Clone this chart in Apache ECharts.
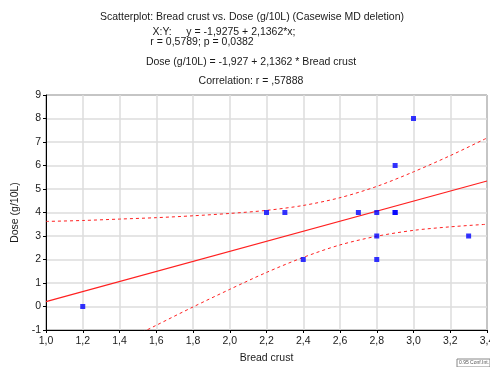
<!DOCTYPE html>
<html>
<head>
<meta charset="utf-8">
<script src="https://cdn.jsdelivr.net/npm/echarts@6/dist/echarts.min.js"></script>
<style>html,body{margin:0;padding:0;background:#fff}#c{width:490px;height:367px}</style>
</head>
<body>
<div id="c"></div>
<script>
// Scatter data (Bread crust, Dose) – (2.9, 4) occurs twice
const breadCrust = [1.2, 2.2, 2.3, 2.4, 2.7, 2.8, 2.8, 2.8, 2.9, 2.9, 2.9, 3.0, 3.3];
const dose       = [0.0, 4.0, 4.0, 2.0, 4.0, 4.0, 3.0, 2.0, 6.0, 4.0, 4.0, 8.0, 3.0];

// Regression line endpoints
const fitX = [1.0, 3.4];
const fitY = [0.21, 5.34];

// 0.95 confidence band
const bandX     = [1.0, 1.2, 1.4, 1.6, 1.8, 2.0, 2.2, 2.4, 2.6, 2.8, 3.0, 3.2, 3.4];
const bandUpper = [3.62, 3.66, 3.72, 3.78, 3.86, 3.96, 4.09, 4.30, 4.63, 5.11, 5.73, 6.42, 7.17];
const bandLower = [-3.20, -2.39, -1.59, -0.80, -0.02, 0.73, 1.45, 2.09, 2.62, 2.99, 3.24, 3.39, 3.50];

// Tick labels
const xTickLabels = ['1,0','1,2','1,4','1,6','1,8','2,0','2,2','2,4','2,6','2,8','3,0','3,2','3,4'];
const yTickLabels = ['-1','0','1','2','3','4','5','6','7','8','9'];

const titleLines = [
  'Scatterplot: Bread crust vs. Dose (g/10L) (Casewise MD deletion)',
  'X:Y:     y = -1,9275 + 2,1362*x;',
  'r = 0,5789; p = 0,0382',
  'Dose (g/10L) = -1,927 + 2,1362 * Bread crust',
  'Correlation: r = ,57888'
];

const FONT = '"Liberation Sans", Arial, sans-serif';
const chart = echarts.init(document.getElementById('c'), null, {renderer: 'canvas'});

const zip = (a, b) => a.map((v, i) => [v, b[i]]);
const txt = (s, x, y) => ({
  type: 'text', x: x, y: y,
  style: {text: s, fontFamily: FONT, fontSize: 10.5, fill: '#1a1a1a', align: 'center', verticalAlign: 'middle'}
});

chart.setOption({
  animation: false,
  backgroundColor: '#fff',
  grid: {left: 46, top: 95, width: 441, height: 235, show: true, borderColor: '#000', borderWidth: 1,
         containLabel: false, outerBoundsMode: 'none'},
  xAxis: {
    type: 'value', min: 1.0, max: 3.4, interval: 0.2,
    name: 'Bread crust', nameLocation: 'middle', nameGap: 23,
    nameTextStyle: {fontFamily: FONT, fontSize: 10.5, color: '#1a1a1a'},
    axisLine: {show: true, onZero: false, lineStyle: {color: '#000'}},
    axisTick: {show: true, length: 3, lineStyle: {color: '#000'}},
    axisLabel: {
      fontFamily: FONT, fontSize: 10.5, color: '#1a1a1a', margin: 6, showMaxLabel: true, showMinLabel: true,
      hideOverlap: false,
      formatter: v => xTickLabels[Math.round((v - 1.0) / 0.2)]
    },
    splitLine: {show: true, lineStyle: {color: '#dcdcdc', width: 1.5}}
  },
  yAxis: {
    type: 'value', min: -1, max: 9, interval: 1,
    name: 'Dose (g/10L)', nameLocation: 'middle', nameGap: 25, nameRotate: 90,
    nameTextStyle: {fontFamily: FONT, fontSize: 10.5, color: '#1a1a1a'},
    axisLine: {show: true, onZero: false, lineStyle: {color: '#000'}},
    axisTick: {show: true, length: 3, lineStyle: {color: '#000'}},
    axisLabel: {
      fontFamily: FONT, fontSize: 10.5, color: '#1a1a1a', margin: 5,
      formatter: v => yTickLabels[Math.round(v + 1)]
    },
    splitLine: {show: true, lineStyle: {color: '#dcdcdc', width: 1.5}}
  },
  series: [
    {
      type: 'line', data: zip(fitX, fitY), symbol: 'none', clip: true,
      lineStyle: {color: '#ff2020', width: 1.2}, z: 3
    },
    {
      type: 'line', data: zip(bandX, bandUpper), symbol: 'none', smooth: 0.3, clip: true,
      lineStyle: {color: '#ff2020', width: 1, type: [3, 3]}, z: 3
    },
    {
      type: 'line', data: zip(bandX, bandLower), symbol: 'none', smooth: 0.3, clip: true,
      lineStyle: {color: '#ff2020', width: 1, type: [3, 3]}, z: 3
    },
    {
      type: 'scatter', data: zip(breadCrust, dose), symbol: 'rect', symbolSize: 5,
      itemStyle: {color: '#0000ff'}, z: 5
    }
  ],
  graphic: [
    txt(titleLines[0], 252, 17),
    txt(titleLines[1], 224, 32),
    txt(titleLines[2], 202, 42),
    txt(titleLines[3], 251, 62),
    txt(titleLines[4], 251, 81),
    {
      type: 'rect', shape: {x: 457, y: 359, width: 33, height: 8},
      style: {fill: '#fff', stroke: '#888', lineWidth: 1}
    },
    {
      type: 'text', x: 459, y: 363,
      style: {text: '0.95 Conf.Int.', fontFamily: FONT, fontSize: 5, fill: '#555', verticalAlign: 'middle'}
    }
  ]
});
</script>
</body>
</html>
